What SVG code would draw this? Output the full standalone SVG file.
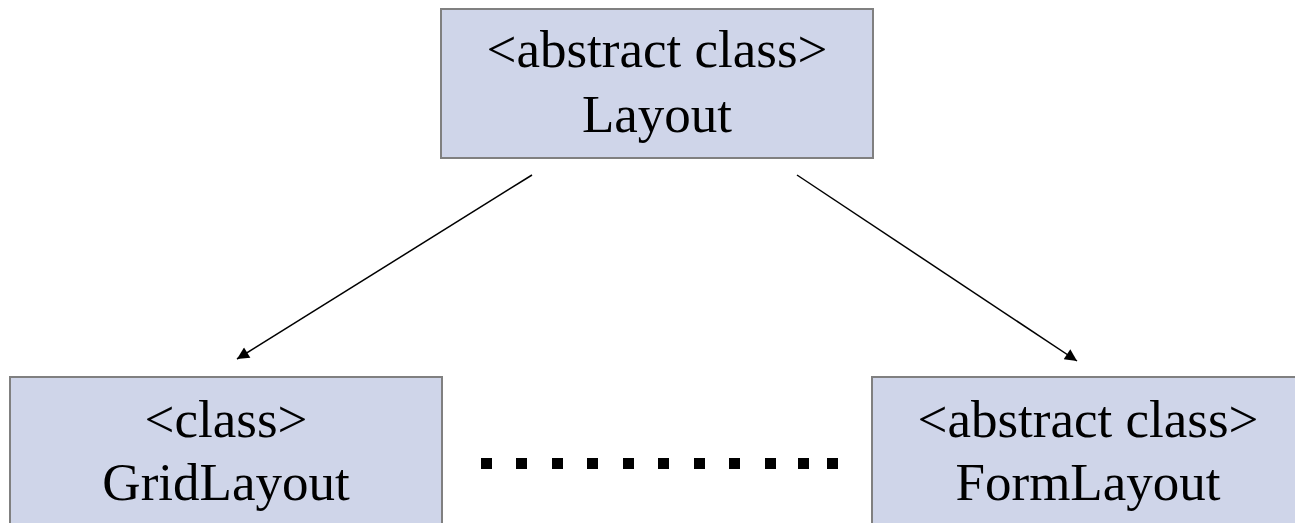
<svg xmlns="http://www.w3.org/2000/svg" width="1295" height="523" viewBox="0 0 1295 523">
<style>
.box{fill:#CFD5E9;stroke:#808080;stroke-width:2}
.t{font-family:"Liberation Serif","Times New Roman",serif;font-size:53px;fill:#000;text-anchor:middle}
.c{stroke:#000;stroke-width:1.5;fill:none}
.dot{fill:#000}
</style>
<defs>
<marker id="ah" viewBox="0 0 10 10" refX="10" refY="5" markerWidth="14" markerHeight="12" markerUnits="userSpaceOnUse" orient="auto">
<path d="M0,0 L10,5 L0,10 z" fill="#000"/>
</marker>
</defs>
<g id="layout">
<rect class="box" x="441" y="9" width="432" height="149"/>
<text class="t" x="657" y="67">&lt;abstract class&gt;</text>
<text class="t" x="657" y="132">Layout</text>
</g>
<g id="gridlayout">
<rect class="box" x="10" y="377" width="432" height="160"/>
<text class="t" x="226" y="437">&lt;class&gt;</text>
<text class="t" x="226" y="500">GridLayout</text>
</g>
<g id="formlayout">
<rect class="box" x="872" y="377" width="432" height="160"/>
<text class="t" x="1088" y="437">&lt;abstract class&gt;</text>
<text class="t" x="1088" y="500">FormLayout</text>
</g>
<g id="connectors">
<line class="c" x1="532" y1="175" x2="237" y2="359" marker-end="url(#ah)"/>
<line class="c" x1="797" y1="175" x2="1077" y2="361" marker-end="url(#ah)"/>
<g id="ellipsis">
<rect class="dot" x="481" y="458" width="11" height="11"/>
<rect class="dot" x="516" y="458" width="11" height="11"/>
<rect class="dot" x="552" y="458" width="11" height="11"/>
<rect class="dot" x="587" y="458" width="11" height="11"/>
<rect class="dot" x="623" y="458" width="11" height="11"/>
<rect class="dot" x="658" y="458" width="11" height="11"/>
<rect class="dot" x="694" y="458" width="11" height="11"/>
<rect class="dot" x="729" y="458" width="11" height="11"/>
<rect class="dot" x="765" y="458" width="11" height="11"/>
<rect class="dot" x="798" y="458" width="11" height="11"/>
<rect class="dot" x="827" y="458" width="11" height="11"/>
</g>
</g>
</svg>
